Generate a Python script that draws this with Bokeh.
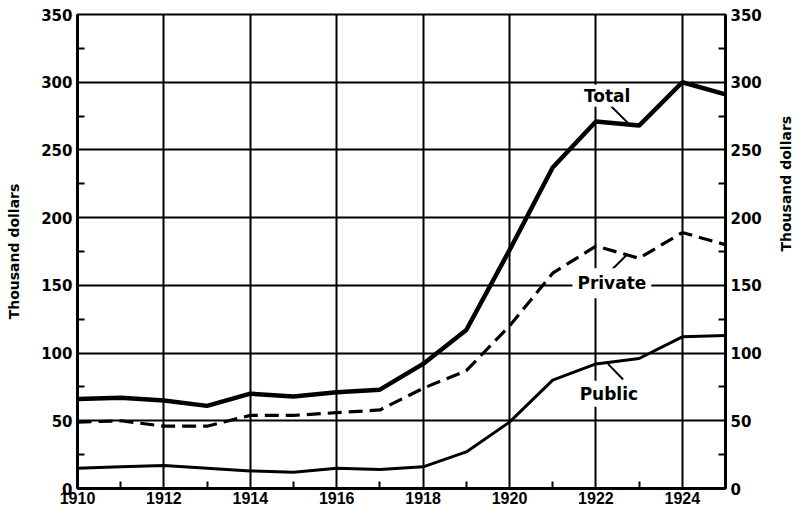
import math
from bokeh.plotting import figure
from bokeh.models import Range1d, FixedTicker, LinearAxis, Label, ColumnDataSource
from bokeh.embed import file_html
from bokeh.resources import INLINE

# ---- data ----
years = list(range(1910, 1926))
total = [66, 67, 65, 61, 70, 68, 71, 73, 92, 117, 176, 237, 271, 268, 300, 291]
private = [49, 50, 46, 46, 54, 54, 56, 58, 74, 87, 120, 159, 179, 170, 189, 180]
public = [15, 16, 17, 15, 13, 12, 15, 14, 16, 27, 49, 80, 92, 96, 112, 113]

x_major = [1910, 1912, 1914, 1916, 1918, 1920, 1922, 1924]
x_minor = [1911, 1913, 1915, 1917, 1919, 1921, 1923, 1925]
y_major = [0, 50, 100, 150, 200, 250, 300, 350]
y_minor = [25, 75, 125, 175, 225, 275, 325]
y_label = "Thousand dollars"

# series label annotations: (text, x, y, leader x0, y0, x1, y1, padding)
series_labels = [
    ("Total", 1922.26, 290, 1922.33, 283, 1922.74, 270, 1),
    ("Private", 1922.37, 151.5, 1922.35, 161, 1922.70, 172, 5),
    ("Public", 1922.30, 70, 1922.63, 80.5, 1922.28, 92, 3),
]

FONT = "DejaVu Sans"

p = figure(width=804, height=508, output_backend="svg", toolbar_location=None,
           x_range=Range1d(1910, 1925), y_range=Range1d(0, 350),
           min_border_left=77, min_border_right=76, min_border_top=14, min_border_bottom=20)
p.background_fill_color = "white"
p.border_fill_color = "white"
p.outline_line_color = "black"
p.outline_line_width = 2

xt = FixedTicker(ticks=x_major, minor_ticks=x_minor)
yt = FixedTicker(ticks=y_major, minor_ticks=y_minor)
p.xaxis.ticker = xt
p.yaxis.ticker = yt

def style_axis(ax, fontname, size):
    ax.axis_line_width = 3
    ax.axis_line_color = "black"
    ax.major_tick_in = 0
    ax.major_tick_out = 0
    ax.minor_tick_in = 7
    ax.minor_tick_out = 0
    ax.minor_tick_line_width = 2
    ax.minor_tick_line_color = "black"
    ax.major_label_text_font = fontname
    ax.major_label_text_font_style = "bold"
    ax.major_label_text_font_size = size
    ax.major_label_text_color = "black"
    ax.major_label_standoff = 5

def style_label(ax, standoff):
    ax.axis_label = y_label
    ax.axis_label_text_font = FONT
    ax.axis_label_text_font_style = "bold"
    ax.axis_label_text_font_size = "14px"
    ax.axis_label_text_color = "black"
    ax.axis_label_standoff = standoff

style_axis(p.xaxis[0], "Liberation Sans", "16px")
p.xaxis[0].major_label_standoff = 3
style_axis(p.yaxis[0], FONT, "15px")
style_label(p.yaxis[0], 16)

right = LinearAxis(ticker=yt)
style_axis(right, FONT, "15px")
style_label(right, 21)
try:
    right.axis_label_orientation = math.pi / 2
except Exception:
    pass
p.add_layout(right, "right")

p.xgrid.ticker = xt
p.ygrid.ticker = yt
for g in (p.xgrid[0], p.ygrid[0]):
    g.grid_line_color = "black"
    g.grid_line_width = 2

src = ColumnDataSource(dict(year=years, total=total, private=private, public=public))
p.line("year", "public", source=src, line_color="black", line_width=3)
p.line("year", "private", source=src, line_color="black", line_width=3.2, line_dash="14 7")
p.line("year", "total", source=src, line_color="black", line_width=4.5)

for text, lx, ly, ax0, ay0, ax1, ay1, pad in series_labels:
    p.segment(x0=[ax0], y0=[ay0], x1=[ax1], y1=[ay1], line_color="black", line_width=2)
    p.add_layout(Label(x=lx, y=ly, text=text, text_align="center", text_baseline="middle",
                       text_font=FONT, text_font_style="bold", text_font_size="17px",
                       text_color="black", background_fill_color="white",
                       padding=pad))

open("out.html", "w").write(file_html(p, INLINE))
